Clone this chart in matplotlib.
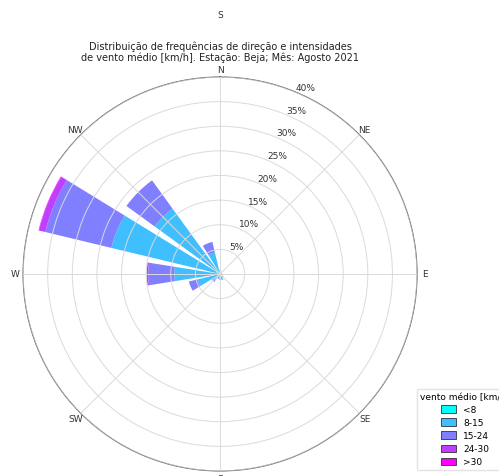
import numpy as np
import matplotlib
matplotlib.use("Agg")
import matplotlib.pyplot as plt

# Wind direction sectors (compass degrees, clockwise from north)
directions = ["N", "NNE", "NE", "ENE", "E", "ESE", "SE", "SSE",
              "S", "SSW", "SW", "WSW", "W", "WNW", "NW", "NNW"]
dir_degrees = np.arange(16) * 22.5

speed_bins = ["<8", "8-15", "15-24", "24-30", ">30"]

# Frequency (%) per direction for each speed class
freq_lt8 = [0.5, 0.4, 0.3, 0.3, 0.3, 0.4, 0.5, 0.6, 0.6, 0.5, 0.4, 0.5, 0.5, 0.8, 0.6, 0.5]
freq_8_15 = [0.3, 0.2, 0.2, 0.1, 0.2, 0.2, 0.4, 0.6, 0.5, 0.4, 1.0, 4.2, 8.8, 21.9, 15.8, 4.0]
freq_15_24 = [0.0, 0.0, 0.0, 0.0, 0.0, 0.0, 0.0, 0.1, 0.1, 0.1, 0.6, 1.8, 5.3, 13.8, 7.1, 2.2]
freq_24_30 = [0.0, 0.0, 0.0, 0.0, 0.0, 0.0, 0.0, 0.0, 0.0, 0.0, 0.0, 0.0, 0.3, 1.3, 0.0, 0.0]
freq_gt30 = [0.0, 0.0, 0.0, 0.0, 0.0, 0.0, 0.0, 0.0, 0.0, 0.0, 0.0, 0.0, 0.0, 0.1, 0.0, 0.0]

radial_ticks = [5, 10, 15, 20, 25, 30, 35, 40]
compass_labels = ["N", "NE", "E", "SE", "S", "SW", "W", "NW"]

title = ("Distribuição de frequências de direção e intensidades\n"
         "de vento médio [km/h]. Estação: Beja; Mês: Agosto 2021")

fig = plt.figure(figsize=(4.99, 4.77), dpi=100)
ax = fig.add_axes([0.046, 0.0105, 0.79, 0.826], projection="polar")
ax.set_theta_zero_location("N")
ax.set_theta_direction(-1)

series = [freq_lt8, freq_8_15, freq_15_24, freq_24_30, freq_gt30]
colors = plt.cm.cool(np.linspace(0, 1, len(speed_bins)))
theta = np.deg2rad(dir_degrees)
width = np.deg2rad(22.5) * 0.8
bottom = np.zeros(len(directions))
for vals, col, lab in zip(series, colors, speed_bins):
    vals = np.asarray(vals)
    ax.bar(theta, vals, width=width, bottom=bottom, color=col,
           edgecolor="none", linewidth=0, label=lab, zorder=1)
    bottom += vals

ax.set_ylim(0, 40)
ax.set_yticks(radial_ticks)
ax.set_yticklabels([f"{t}%" for t in radial_ticks], fontsize=6.5, color="#333333")
ax.set_rlabel_position(22.5)
ax.set_thetagrids(np.arange(0, 360, 45), compass_labels, fontsize=6.5, color="#333333")
ax.tick_params(axis="x", pad=-5)
ax.grid(True, color="#dadada", linewidth=0.7, zorder=3)
ax.set_axisbelow(False)
ax.spines["polar"].set_color("#666666")
ax.spines["polar"].set_linewidth(0.8)

fig.text(0.441, 0.968, "S", ha="center", va="center", fontsize=6.5, color="#333333")
fig.text(0.441, 0.891, title, ha="center", va="center", fontsize=7.0,
         color="#222222", linespacing=1.1)

handles = [plt.Rectangle((0, 0), 1, 1, facecolor=c, edgecolor="#333333", linewidth=0.6)
           for c in colors]
leg = fig.legend(handles, speed_bins, title="vento médio [km/h]",
                 loc="lower left", bbox_to_anchor=(0.826, 0.003),
                 fontsize=6.5, title_fontsize=6.5, frameon=True,
                 handlelength=1.7, handleheight=0.9, labelspacing=0.45,
                 borderpad=0.4, handletextpad=0.8)
leg.get_frame().set_edgecolor("#dddddd")

fig.savefig("out.png", dpi=100)
